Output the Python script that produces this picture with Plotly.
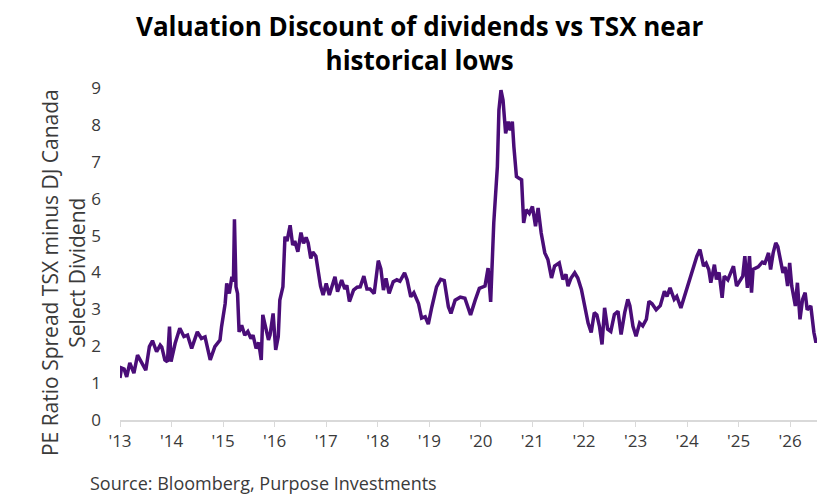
import plotly.graph_objects as go

# 估读的数据：时间（小数年份）和PE价差
years = [2013.00, 2013.03, 2013.08, 2013.13, 2013.19, 2013.27, 2013.34, 2013.42, 2013.50, 2013.57,
         2013.63, 2013.71, 2013.78, 2013.81, 2013.87, 2013.92, 2013.96, 2013.99, 2014.07, 2014.16,
         2014.24, 2014.31, 2014.39, 2014.50, 2014.58, 2014.65, 2014.75, 2014.84, 2014.94, 2014.97,
         2015.04, 2015.07, 2015.12, 2015.17, 2015.20, 2015.22, 2015.25, 2015.28, 2015.31, 2015.36,
         2015.42, 2015.48, 2015.54, 2015.58, 2015.64, 2015.69, 2015.74, 2015.77, 2015.81, 2015.88,
         2015.91, 2015.97, 2016.02, 2016.07, 2016.10, 2016.16, 2016.20, 2016.24, 2016.30, 2016.35,
         2016.39, 2016.45, 2016.51, 2016.56, 2016.61, 2016.65, 2016.70, 2016.74, 2016.80, 2016.85,
         2016.89, 2016.94, 2017.00, 2017.06, 2017.11, 2017.17, 2017.22, 2017.30, 2017.36, 2017.40,
         2017.45, 2017.53, 2017.60, 2017.66, 2017.73, 2017.79, 2017.85, 2017.93, 2018.01, 2018.06,
         2018.11, 2018.16, 2018.22, 2018.30, 2018.37, 2018.43, 2018.52, 2018.57, 2018.64, 2018.70,
         2018.79, 2018.85, 2018.92, 2018.98, 2019.05, 2019.14, 2019.22, 2019.29, 2019.37, 2019.42,
         2019.50, 2019.60, 2019.69, 2019.74, 2019.80, 2019.89, 2019.97, 2020.08, 2020.14, 2020.19,
         2020.25, 2020.32, 2020.35, 2020.39, 2020.43, 2020.48, 2020.53, 2020.57, 2020.61, 2020.64,
         2020.69, 2020.74, 2020.79, 2020.83, 2020.88, 2020.94, 2021.00, 2021.06, 2021.11, 2021.17,
         2021.24, 2021.30, 2021.37, 2021.43, 2021.52, 2021.59, 2021.65, 2021.69, 2021.75, 2021.82,
         2021.88, 2021.95, 2022.01, 2022.08, 2022.14, 2022.20, 2022.25, 2022.30, 2022.35, 2022.40,
         2022.46, 2022.52, 2022.59, 2022.66, 2022.72, 2022.79, 2022.85, 2022.89, 2022.95, 2023.01,
         2023.08, 2023.14, 2023.21, 2023.26, 2023.32, 2023.40, 2023.48, 2023.56, 2023.61, 2023.67,
         2023.75, 2023.80, 2023.88, 2023.95, 2024.01, 2024.10, 2024.19, 2024.25, 2024.32, 2024.37,
         2024.42, 2024.46, 2024.53, 2024.57, 2024.62, 2024.68, 2024.72, 2024.79, 2024.85, 2024.90,
         2024.96, 2025.03, 2025.08, 2025.12, 2025.17, 2025.21, 2025.25, 2025.28, 2025.38, 2025.46,
         2025.51, 2025.58, 2025.62, 2025.67, 2025.72, 2025.76, 2025.82, 2025.86, 2025.90, 2025.95,
         2025.99, 2026.03, 2026.10, 2026.14, 2026.19, 2026.24, 2026.29, 2026.33, 2026.40, 2026.43,
         2026.46, 2026.50, 2026.52]

spread = [1.14, 1.41, 1.38, 1.17, 1.55, 1.27, 1.76, 1.54, 1.35, 1.99,
          2.15, 1.85, 2.03, 1.98, 1.63, 1.58, 2.53, 1.58, 2.08, 2.49,
          2.26, 2.30, 1.94, 2.39, 2.21, 2.25, 1.63, 1.99, 2.17, 2.53,
          3.16, 3.70, 3.43, 3.88, 3.75, 5.44, 3.61, 3.43, 2.39, 2.57,
          2.30, 2.40, 2.21, 2.30, 1.94, 2.10, 1.63, 2.85, 2.62, 2.17,
          2.30, 2.89, 1.90, 2.26, 3.25, 3.61, 4.97, 4.85, 5.28, 4.74,
          4.85, 4.56, 5.08, 4.79, 4.95, 4.80, 4.38, 4.55, 4.44, 3.97,
          3.63, 3.39, 3.70, 3.39, 3.60, 3.88, 3.48, 3.79, 3.55, 3.65,
          3.21, 3.52, 3.60, 3.61, 3.90, 3.55, 3.55, 3.43, 4.32, 4.10,
          3.52, 3.84, 3.43, 3.75, 3.80, 3.76, 3.99, 3.80, 3.34, 3.45,
          3.16, 2.76, 2.80, 2.60, 3.07, 3.61, 3.81, 3.78, 3.07, 2.89,
          3.25, 3.33, 3.30, 3.09, 2.85, 3.25, 3.57, 3.63, 4.12, 3.20,
          5.34, 6.87, 8.40, 8.94, 8.67, 7.77, 8.09, 7.85, 8.09, 7.41,
          6.60, 6.55, 6.51, 5.34, 5.70, 5.60, 5.79, 5.25, 5.75, 5.07,
          4.53, 4.35, 3.85, 4.17, 4.26, 3.81, 3.95, 3.63, 3.85, 3.99,
          3.85, 3.54, 3.09, 2.63, 2.37, 2.91, 2.85, 2.54, 2.05, 3.04,
          2.46, 2.40, 2.86, 2.95, 2.32, 2.91, 3.27, 3.10, 2.54, 2.27,
          2.63, 2.55, 2.73, 3.22, 3.15, 2.99, 3.10, 3.49, 3.35, 3.58,
          3.27, 3.35, 3.04, 3.35, 3.63, 4.03, 4.44, 4.62, 4.17, 4.25,
          4.08, 3.72, 4.21, 3.81, 4.00, 3.31, 3.90, 3.80, 3.99, 4.17,
          3.63, 3.81, 3.90, 4.44, 3.58, 4.44, 3.45, 4.08, 4.15, 4.28,
          4.25, 4.53, 4.08, 4.53, 4.80, 4.70, 4.21, 3.99, 4.15, 3.63,
          4.26, 3.63, 3.09, 3.72, 2.73, 3.27, 3.45, 2.99, 3.09, 2.73,
          2.37, 2.10, 2.18]

tick_years = list(range(2013, 2027))
tick_labels = ["'13", "'14", "'15", "'16", "'17", "'18", "'19",
               "'20", "'21", "'22", "'23", "'24", "'25", "'26"]
y_ticks = list(range(0, 10))

font_family = 'Open Sans'
text_color = '#3a3a3a'

fig = go.Figure()
fig.add_trace(go.Scatter(x=years, y=spread, mode='lines',
                         line=dict(color='#4A0D78', width=3.5),
                         showlegend=False, hoverinfo='skip'))

# 标题（两行）
fig.add_annotation(text='<b>Valuation Discount of dividends vs TSX near<br>historical lows</b>',
                   xref='paper', yref='paper', x=0.429, y=1.135,
                   xanchor='center', yanchor='middle', showarrow=False,
                   font=dict(family=font_family, size=26, color='black'))

# 纵轴标题用注释来放，位置更好控制
fig.add_annotation(text='PE Ratio Spread TSX minus DJ Canada<br>Select Dividend',
                   xref='paper', yref='paper', x=-0.082, y=0.445,
                   xanchor='center', yanchor='middle', textangle=-90, showarrow=False,
                   font=dict(family=font_family, size=21, color=text_color))

# 数据来源
fig.add_annotation(text='Source: Bloomberg, Purpose Investments',
                   xref='paper', yref='paper', x=-0.046, y=-0.19,
                   xanchor='left', yanchor='middle', showarrow=False,
                   font=dict(family=font_family, size=18, color=text_color))

# 页面有8px的边距，这里把尺寸和边距相应缩小
fig.update_layout(
    width=831, height=493,
    margin=dict(l=112, r=22, t=80, b=81),
    paper_bgcolor='white', plot_bgcolor='white',
    font=dict(family=font_family, color=text_color),
)

fig.update_xaxes(range=[2013.0, 2026.52], tickvals=tick_years, ticktext=tick_labels,
                 showgrid=False, zeroline=False,
                 showline=True, linecolor='#d9d9d9', linewidth=1.5,
                 ticks='outside', ticklen=5, tickcolor='#d9d9d9',
                 tickfont=dict(family=font_family, size=17, color=text_color))
fig.update_yaxes(range=[0, 9], tickvals=y_ticks,
                 showgrid=False, zeroline=False, showline=False,
                 ticks='', ticklabelstandoff=18,
                 tickfont=dict(family=font_family, size=17, color=text_color))

fig.write_html('out.html')
